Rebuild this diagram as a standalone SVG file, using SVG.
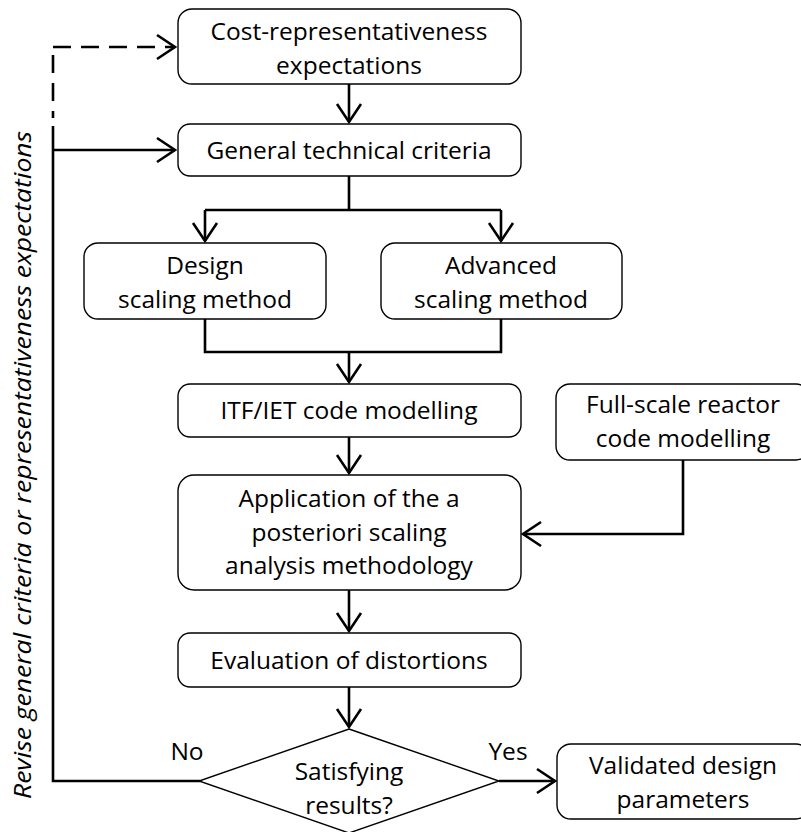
<svg xmlns="http://www.w3.org/2000/svg" width="801" height="832" viewBox="0 0 801 832">
<defs>
<style>
.box{fill:#fff;stroke:#000;stroke-width:1.4}
.t{font-family:"Open Sans","Noto Sans","DejaVu Sans",sans-serif;font-size:24.5px;fill:#000;text-anchor:middle}
.c{fill:none;stroke:#000;stroke-width:2.6}
.d{fill:none;stroke:#000;stroke-width:2.6;stroke-dasharray:18 10}
</style>
<marker id="ah" markerUnits="userSpaceOnUse" viewBox="-20 -14 24 28" refX="0" refY="0" markerWidth="24" markerHeight="28" orient="auto">
<path d="M-18,-12 L0,0 L-18,12" fill="none" stroke="#000" stroke-width="2.6"/>
</marker>
</defs>
<rect width="801" height="832" fill="#fff"/>
<g id="connectors">
<path class="d" d="M53,47 H175" marker-end="url(#ah)"/>
<path class="d" d="M53,47 V118" stroke-dashoffset="-8"/>
<path class="c" d="M53,126 V781 H200"/>
<path class="c" d="M53,150 H175" marker-end="url(#ah)"/>
<path class="c" d="M349,84 V122" marker-end="url(#ah)"/>
<path class="c" d="M349,176 V210 M205,210 H501" />
<path class="c" d="M205,210 V241" marker-end="url(#ah)"/>
<path class="c" d="M501,210 V241" marker-end="url(#ah)"/>
<path class="c" d="M205,319 V352 H501 V319"/>
<path class="c" d="M349,352 V382" marker-end="url(#ah)"/>
<path class="c" d="M349,437 V473" marker-end="url(#ah)"/>
<path class="c" d="M683,460 V534 H523" marker-end="url(#ah)"/>
<path class="c" d="M349,590 V631" marker-end="url(#ah)"/>
<path class="c" d="M349,687 V727" marker-end="url(#ah)"/>
<path class="c" d="M499,781 H555" marker-end="url(#ah)"/>
</g>
<g id="n-cost"><rect class="box" x="178" y="9" width="343" height="75" rx="14"/><text class="t" x="349" y="40">Cost-representativeness</text><text class="t" x="349" y="73.5">expectations</text></g>
<g id="n-general"><rect class="box" x="178" y="124" width="343" height="52" rx="12"/><text class="t" x="349" y="159">General technical criteria</text></g>
<g id="n-design"><rect class="box" x="84" y="243" width="242" height="76" rx="14"/><text class="t" x="205" y="274">Design</text><text class="t" x="205" y="307.5">scaling method</text></g>
<g id="n-advanced"><rect class="box" x="381" y="243" width="241" height="76" rx="14"/><text class="t" x="501" y="274">Advanced</text><text class="t" x="501" y="307.5">scaling method</text></g>
<g id="n-itf"><rect class="box" x="178" y="384" width="343" height="53" rx="12"/><text class="t" x="349" y="419">ITF/IET code modelling</text></g>
<g id="n-full"><rect class="box" x="556" y="384" width="254" height="76" rx="14"/><text class="t" x="683" y="413">Full-scale reactor</text><text class="t" x="683" y="446.5">code modelling</text></g>
<g id="n-app"><rect class="box" x="178" y="475" width="343" height="115" rx="16"/><text class="t" x="349" y="507">Application of the a</text><text class="t" x="349" y="540.5">posteriori scaling</text><text class="t" x="349" y="574">analysis methodology</text></g>
<g id="n-eval"><rect class="box" x="178" y="633" width="343" height="54" rx="12"/><text class="t" x="349" y="669">Evaluation of distortions</text></g>
<g id="n-decision"><polygon class="box" points="349,729 499,781 349,833 199,781"/><text class="t" x="349" y="780">Satisfying</text><text class="t" x="349" y="813.5">results?</text></g>
<g id="n-valid"><rect class="box" x="557" y="744" width="253" height="75" rx="14"/><text class="t" x="683" y="774">Validated design</text><text class="t" x="683" y="807.5">parameters</text></g>
<g id="labels">
<text class="t" x="187" y="760">No</text>
<text class="t" x="508" y="760">Yes</text>
<text class="t" x="0" y="0" font-style="italic" font-size="28" textLength="668" lengthAdjust="spacingAndGlyphs" transform="translate(31,465) rotate(-90)">Revise general criteria or representativeness expectations</text>
</g>
</svg>
